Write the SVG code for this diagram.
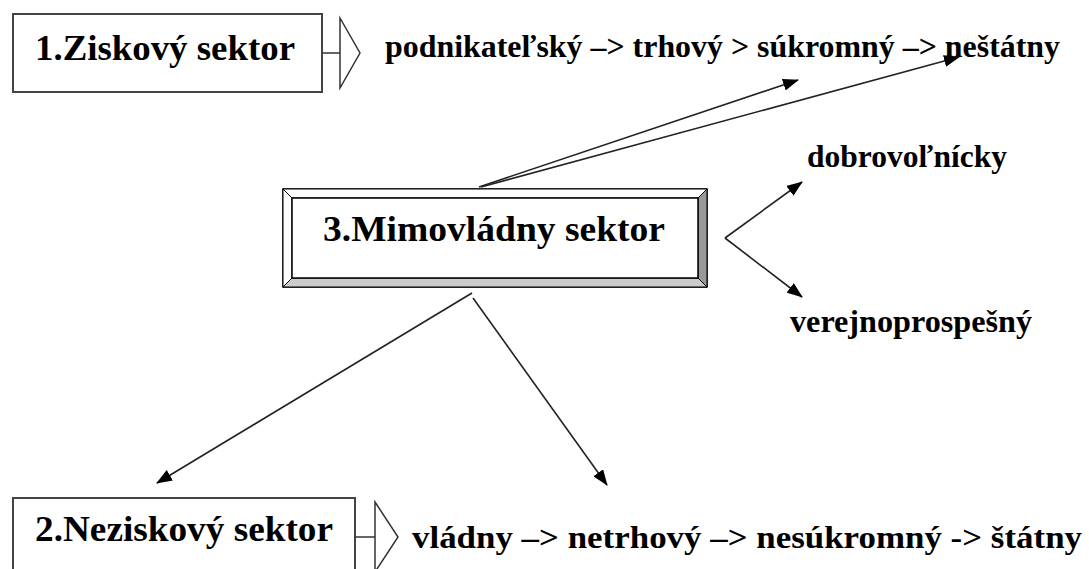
<svg xmlns="http://www.w3.org/2000/svg" width="1089" height="569" viewBox="0 0 1089 569">
<defs>
<marker id="ah" viewBox="0 0 16 12" refX="15" refY="6" markerWidth="16" markerHeight="12" markerUnits="userSpaceOnUse" orient="auto">
<path d="M0,0 L16,6 L0,12 z" fill="#000"/>
</marker>
</defs>
<rect width="1089" height="569" fill="#fff"/>
<g font-family="Times New Roman, Liberation Serif, serif" font-weight="bold" fill="#000">
<g id="node1">
<rect x="13" y="14" width="309" height="78" fill="#fff" stroke="#444" stroke-width="2"/>
<text font-size="36" x="35" y="60" textLength="260" lengthAdjust="spacingAndGlyphs">1.Ziskový sektor</text>
<line x1="322" y1="53" x2="340" y2="53" stroke="#333" stroke-width="1.5"/>
<polygon points="340,18 360,53 340,88" fill="#fff" stroke="#333" stroke-width="1.5"/>
</g>
<g id="label1">
<text font-size="32" x="385" y="57" textLength="675" lengthAdjust="spacingAndGlyphs">podnikateľský –&gt; trhový &gt; súkromný –&gt; neštátny</text>
</g>
<g id="node3">
<rect x="283" y="189" width="424" height="98" fill="#fff" stroke="#000" stroke-width="1.5"/>
<polygon points="283,189 707,189 698,198 292,198" fill="#fff" stroke="#000" stroke-width="1"/>
<polygon points="283,189 292,198 292,278 283,287" fill="#fff" stroke="#000" stroke-width="1"/>
<polygon points="283,287 292,278 698,278 707,287" fill="#cccccc" stroke="#000" stroke-width="1"/>
<polygon points="707,189 698,198 698,278 707,287" fill="#999999" stroke="#000" stroke-width="1"/>
<rect x="292" y="198" width="406" height="80" fill="#fff" stroke="#000" stroke-width="1.5"/>
<text font-size="36" x="323" y="241" textLength="342" lengthAdjust="spacingAndGlyphs">3.Mimovládny sektor</text>
</g>
<g id="label-dobro">
<text font-size="32" x="807" y="167" textLength="200" lengthAdjust="spacingAndGlyphs">dobrovoľnícky</text>
</g>
<g id="label-verej">
<text font-size="32" x="790" y="332" textLength="242" lengthAdjust="spacingAndGlyphs">verejnoprospešný</text>
</g>
<g id="node2">
<rect x="13" y="498" width="342" height="80" fill="#fff" stroke="#444" stroke-width="2"/>
<text font-size="36" x="35" y="541" textLength="298" lengthAdjust="spacingAndGlyphs">2.Neziskový sektor</text>
<line x1="355" y1="537" x2="375" y2="537" stroke="#333" stroke-width="1.5"/>
<polygon points="375,502 398,537 375,572" fill="#fff" stroke="#333" stroke-width="1.5"/>
</g>
<g id="label2">
<text font-size="32" x="412" y="548" textLength="670" lengthAdjust="spacingAndGlyphs">vládny –&gt; netrhový –&gt; nesúkromný -&gt; štátny</text>
</g>
</g>
<g id="connectors" stroke="#222" stroke-width="1.6" fill="none">
<line x1="479" y1="187" x2="798" y2="80" marker-end="url(#ah)"/>
<line x1="481" y1="187" x2="959" y2="57" marker-end="url(#ah)"/>
<line x1="725" y1="238" x2="802" y2="182" marker-end="url(#ah)"/>
<line x1="725" y1="238" x2="802" y2="297" marker-end="url(#ah)"/>
<line x1="472" y1="293" x2="157" y2="483" marker-end="url(#ah)"/>
<line x1="473" y1="298" x2="607" y2="485" marker-end="url(#ah)"/>
</g>
</svg>
